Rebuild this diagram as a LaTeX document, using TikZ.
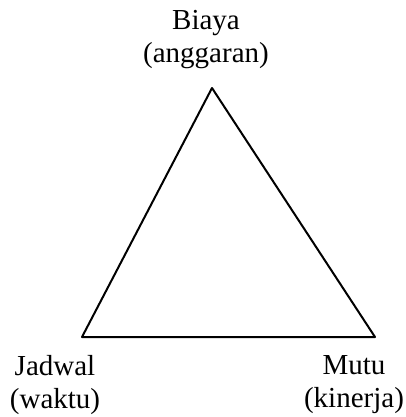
\documentclass[tikz,border=0pt]{standalone}
\usepackage{fontspec}
\setmainfont{Liberation Serif}
\begin{document}
\begin{tikzpicture}[
  x=1pt, y=-1pt,
  line cap=round,
  line join=round,
  label/.style={align=center, inner sep=0pt, font=\fontsize{29}{33}\selectfont}
]
  \useasboundingbox (0,0) rectangle (406,417);

  \coordinate (T) at (212,88);
  \coordinate (L) at (82,337);
  \coordinate (R) at (375,337);

  % Segitiga
  \draw[line width=2pt] (T)--(L)--(R)--cycle;

  % Label
  \node[label] (biaya) at (206,40) {Biaya\\(anggaran)};
  \node[label] (jadwal) at (55,385) {Jadwal\\(waktu)};
  \node[label] (mutu) at (354,385) {Mutu\\(kinerja)};
\end{tikzpicture}
\end{document}
